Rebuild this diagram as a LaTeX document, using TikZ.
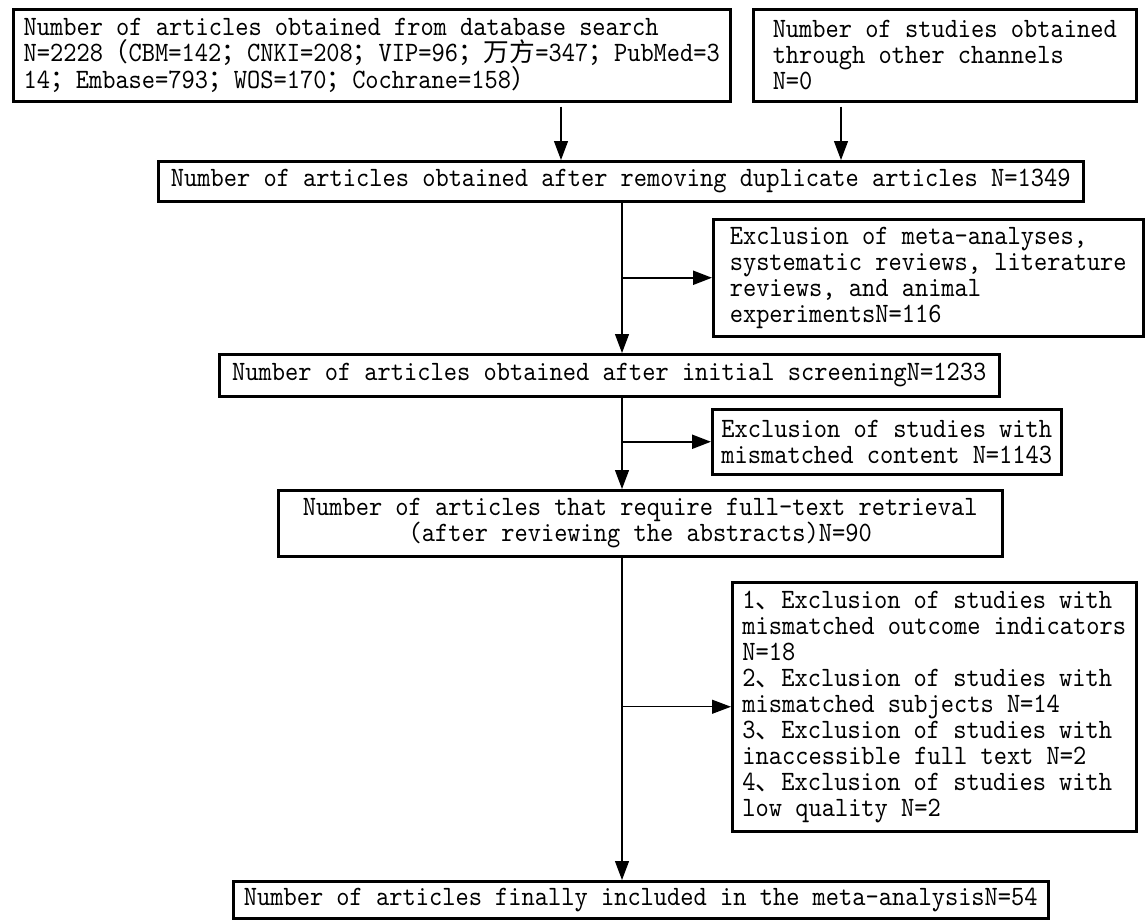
\documentclass[tikz,border=0pt]{standalone}
\usepackage{fontspec}
\usetikzlibrary{arrows.meta}
\newfontfamily\mono{lmmono10-regular.otf}[FakeStretch=0.9]
\newfontfamily\cjk{Noto Sans CJK SC}[Scale=0.92]
\tikzset{
  box/.style={draw, line width=2.5pt, anchor=north west, inner xsep=4pt, inner ysep=0pt,
    font=\mono\fontsize{28}{26}\selectfont, align=left},
  arr/.style={line width=1.2pt, -{Triangle[length=19pt,width=14pt]}},
  barr/.style={line width=2.2pt, -{Triangle[length=19pt,width=14pt]}}
}
\begin{document}
\begin{tikzpicture}[x=1pt,y=-1pt]
\useasboundingbox[fill=white] (0,0) rectangle (1146,919);
\node[box, minimum width=717pt, minimum height=92pt] (A) at (12,8)
  {Number of articles obtained from database search\\
   N=2228{\cjk （}CBM=142{\cjk ；}CNKI=208{\cjk ；}VIP=96{\cjk ；万方}=347{\cjk ；}PubMed=3\\
   14{\cjk ；}Embase=793{\cjk ；}WOS=170{\cjk ；}Cochrane=158{\cjk ）}};
\node[box, minimum width=383pt, minimum height=92pt] (B) at (752,8)
  {Number of studies obtained\\through other channels\\N=0};
\node[box, minimum width=925pt, minimum height=40pt] (C) at (157,160)
  {Number of articles obtained after removing duplicate articles N=1349};
\node[box, minimum width=430pt, minimum height=117pt] (E) at (712,218)
  {Exclusion of meta-analyses,\\systematic reviews, literature\\reviews, and animal\\experimentsN=116};
\node[box, minimum width=780pt, minimum height=42pt] (D) at (218,353)
  {Number of articles obtained after initial screeningN=1233};
\node[box, minimum width=349pt, minimum height=65pt] (G) at (711,408)
  {Exclusion of studies with\\mismatched content N=1143};
\node[box, minimum width=724pt, minimum height=66pt, align=center] (F) at (277,489)
  {Number of articles that require full-text retrieval\\(after reviewing the abstracts)N=90};
\node[box, minimum width=404pt, minimum height=249pt] (H) at (731,581)
  {1{\cjk 、}Exclusion of studies with\\mismatched outcome indicators\\N=18\\
   2{\cjk 、}Exclusion of studies with\\mismatched subjects N=14\\
   3{\cjk 、}Exclusion of studies with\\inaccessible full text N=2\\
   4{\cjk 、}Exclusion of studies with\\low quality N=2};
\node[box, minimum width=815pt, minimum height=37pt] (I) at (232,880)
  {Number of articles finally included in the meta-analysisN=54};
\coordinate (xa) at (561,0);
\coordinate (xb) at (841,0);
\coordinate (xt) at (622,0);
\draw[arr, shorten <=4pt] (xa |- A.south) -- (xa |- C.north);
\draw[arr, shorten <=4pt] (xb |- B.south) -- (xb |- C.north);
\draw[arr] (xt |- C.south) -- (xt |- D.north);
\draw[barr] (xt |- E.west) -- (E.west);
\draw[arr] (xt |- D.south) -- (xt |- F.north);
\draw[barr] (xt |- G.west) -- (G.west);
\draw[arr] (xt |- F.south) -- (xt |- I.north);
\draw[arr] (xt |- H.west) -- (H.west);
\end{tikzpicture}
\end{document}
